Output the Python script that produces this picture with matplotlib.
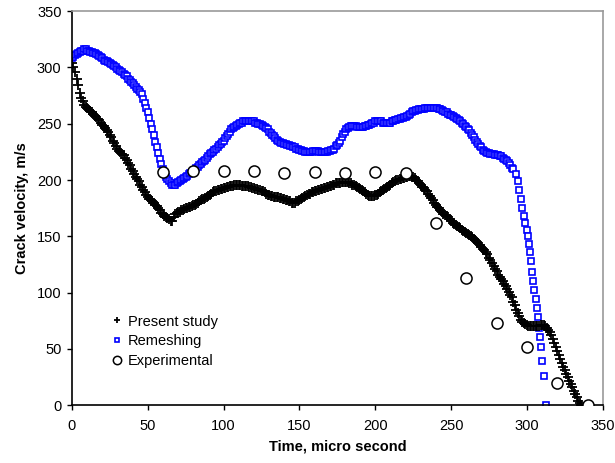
import numpy as np
import matplotlib
matplotlib.use("Agg")
import matplotlib.pyplot as plt

plt.rcParams["font.family"] = ["Liberation Sans", "DejaVu Sans"]

# ── Data ──────────────────────────────────────────────────────────────────────
# Present study, every micro second from 0 to 336
present_t = np.arange(0, 337)
present_v = [
    304, 300, 296, 290, 284, 277, 273, 270, 267, 265,
    264, 262, 261, 260, 259, 257, 256, 254, 253, 251,
    249, 248, 246, 244, 243, 240, 238, 235, 233, 230,
    228, 226, 225, 223, 222, 220, 218, 215, 213, 210,
    208, 205, 203, 201, 199, 196, 194, 191, 189, 187,
    185, 183, 182, 181, 180, 178, 177, 175, 173, 171,
    170, 168, 167, 166, 165, 164, 164, 167, 170, 171,
    172, 172, 173, 173, 174, 175, 175, 176, 176, 177,
    178, 178, 179, 180, 181, 182, 183, 183, 184, 185,
    186, 187, 188, 189, 190, 190, 191, 191, 192, 192,
    193, 193, 194, 194, 195, 195, 195, 196, 196, 196,
    196, 196, 195, 195, 195, 195, 195, 194, 194, 193,
    193, 192, 192, 191, 191, 190, 190, 189, 188, 187,
    187, 186, 186, 185, 185, 185, 185, 184, 184, 183,
    183, 182, 182, 181, 181, 180, 180, 180, 181, 181,
    182, 183, 184, 185, 186, 187, 188, 188, 189, 189,
    190, 190, 191, 191, 192, 192, 193, 193, 194, 194,
    195, 195, 196, 196, 197, 197, 197, 197, 198, 198,
    198, 198, 198, 197, 197, 196, 196, 195, 194, 193,
    192, 191, 190, 189, 188, 187, 186, 186, 186, 186,
    187, 187, 188, 189, 190, 191, 192, 193, 194, 195,
    196, 197, 198, 199, 200, 200, 201, 201, 202, 202,
    203, 203, 204, 204, 203, 203, 202, 200, 199, 197,
    196, 194, 193, 191, 190, 188, 186, 184, 182, 180,
    178, 176, 175, 173, 172, 170, 169, 168, 167, 165,
    164, 162, 161, 160, 159, 158, 157, 156, 155, 154,
    153, 152, 151, 150, 149, 148, 147, 145, 144, 142,
    141, 139, 138, 136, 134, 131, 129, 126, 124, 121,
    119, 116, 114, 112, 110, 108, 106, 103, 101, 98,
    96, 92, 89, 85, 82, 79, 76, 74, 73, 72,
    71, 70, 70, 70, 70, 70, 70, 70, 70, 71,
    71, 71, 70, 69, 67, 65, 62, 59, 55, 52,
    48, 45, 41, 38, 34, 31, 28, 25, 22, 19,
    16, 13, 10, 7, 4, 2, 0,
]

# Remeshing, every micro second from 0 to 291, then the steep drop
remesh_t = list(np.arange(0, 292)) + [
    293, 294, 295, 296, 297, 298, 299, 300, 300.7, 301.3, 301.8,
    302.5, 303.3, 304.2, 305, 305.7, 306.4, 307.2, 308, 308.8, 309.5,
    310.2, 311, 312.5,
]
remesh_v = [
    308, 309, 311, 312, 313, 314, 315, 315, 316, 316,
    315, 315, 314, 314, 313, 313, 312, 311, 310, 309,
    308, 307, 306, 306, 305, 304, 303, 302, 301, 300,
    299, 298, 297, 296, 294, 293, 292, 290, 289, 287,
    286, 284, 283, 281, 280, 278, 276, 272, 268, 264,
    260, 255, 250, 245, 240, 234, 229, 224, 219, 214,
    210, 206, 203, 201, 199, 197, 196, 196, 196, 197,
    198, 199, 200, 201, 202, 203, 204, 205, 206, 207,
    208, 209, 211, 212, 213, 214, 216, 217, 218, 220,
    221, 223, 224, 225, 227, 228, 229, 231, 232, 234,
    235, 237, 239, 241, 243, 245, 246, 247, 248, 249,
    250, 251, 251, 252, 252, 252, 252, 252, 252, 252,
    252, 251, 251, 250, 250, 249, 248, 247, 246, 245,
    243, 242, 240, 239, 237, 236, 235, 234, 233, 233,
    232, 232, 231, 231, 230, 230, 229, 229, 228, 228,
    227, 227, 226, 226, 225, 225, 225, 225, 225, 226,
    226, 226, 226, 225, 225, 225, 225, 225, 225, 226,
    226, 227, 227, 228, 230, 231, 233, 235, 238, 241,
    243, 245, 246, 247, 248, 248, 248, 248, 247, 247,
    247, 247, 247, 248, 248, 249, 249, 250, 251, 251,
    252, 252, 252, 252, 252, 251, 251, 251, 251, 251,
    251, 252, 252, 253, 253, 254, 254, 255, 255, 256,
    256, 257, 258, 259, 260, 261, 261, 262, 262, 263,
    263, 263, 263, 264, 264, 264, 264, 264, 264, 264,
    264, 264, 263, 263, 262, 261, 260, 260, 259, 258,
    258, 257, 256, 255, 254, 253, 252, 251, 250, 248,
    247, 245, 244, 242, 240, 238, 236, 234, 232, 230,
    229, 227, 226, 225, 224, 224, 223, 223, 223, 222,
    222, 222, 221, 221, 220, 219, 218, 217, 215, 213,
    211, 210,
    205, 199, 191, 183, 175, 168, 162, 156, 150, 143, 136,
    128, 118, 110, 102, 94, 86, 78, 69, 61, 52,
    39, 26, 0,
]

# Experimental
exp_t = [60, 80, 100, 120, 140, 160, 180, 200, 220, 240, 260, 280, 300, 320, 340]
exp_v = [207, 208, 208, 208, 206, 207, 206, 207, 206, 162, 113, 73, 52, 20, 0]

# ── Plot ──────────────────────────────────────────────────────────────────────
fig = plt.figure(figsize=(6.15, 4.63), dpi=100)
ax = fig.add_axes([0.117, 0.1246, 0.863, 0.8514])

ax.plot(present_t, present_v, linestyle="none", marker="+", color="black",
        markersize=6.5, markeredgewidth=1.3, label="Present study", zorder=3)
ax.plot(remesh_t, remesh_v, linestyle="none", marker="s", markerfacecolor="white",
        markeredgecolor="#0000ff", markersize=4, markeredgewidth=1.2,
        label="Remeshing", zorder=2)
ax.plot(exp_t, exp_v, linestyle="none", marker="o", markerfacecolor="white",
        markeredgecolor="black", markersize=8, markeredgewidth=1.1,
        label="Experimental", zorder=4)

ax.set_xlim(0, 350)
ax.set_ylim(0, 350)
ax.set_xticks(range(0, 351, 50))
ax.set_yticks(range(0, 351, 50))
ax.tick_params(direction="out", length=3.5, width=1, labelsize=10.5, colors="black")
ax.tick_params(axis="x", pad=6)
ax.tick_params(axis="y", pad=4)

ax.spines[["left", "bottom"]].set_color("black")
ax.spines[["top", "right"]].set_color("#999999")
for s in ax.spines.values():
    s.set_linewidth(1.2)

ax.set_xlabel("Time, micro second", fontsize=10.5, fontweight="bold", labelpad=5)
ax.set_ylabel("Crack velocity, m/s", fontsize=10.5, fontweight="bold", labelpad=6)

ax.legend(loc="upper left", bbox_to_anchor=(0.062, 0.245), frameon=False,
          fontsize=10.5, handlelength=0.8, handletextpad=0.4, labelspacing=0.4,
          borderaxespad=0, markerscale=0.75)

fig.savefig("out.png", dpi=100, facecolor="white")
plt.close(fig)
